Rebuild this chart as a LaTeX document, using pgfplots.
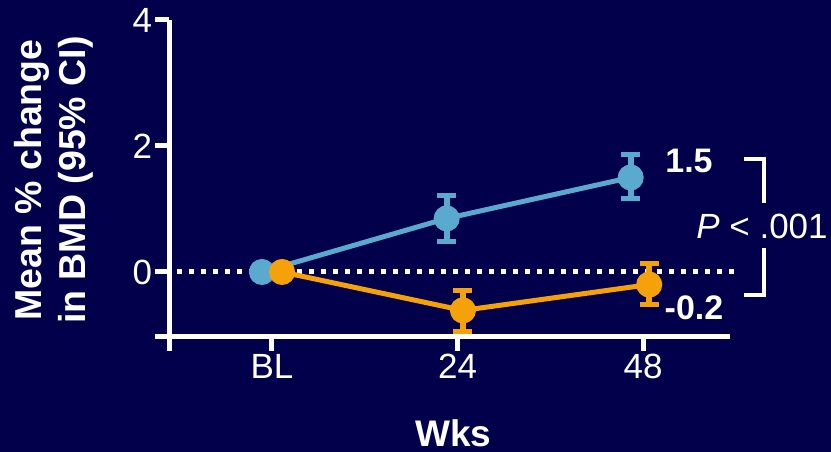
\documentclass[border=0pt]{standalone}
\usepackage{pgfplots}
\pgfplotsset{compat=1.18}
\usepackage{pgfplotstable}
\usepackage{fontspec}
\setmainfont{Liberation Sans}

\definecolor{bgnavy}{RGB}{2,0,74}
\definecolor{seriesblue}{RGB}{90,169,207}
\definecolor{seriesorange}{RGB}{245,161,10}

% x = weeks (series offset slightly apart), y = mean % change, ep/em = CI half-widths
\pgfplotstableread{
x     y     ep    em
-1.3  0     0     0
22.6  0.85  0.37  0.36
46.4  1.5   0.37  0.34
}\blueseries
\pgfplotstableread{
x     y     ep    em
1.3   0     0     0
24.7  -0.61 0.32  0.34
48.8  -0.2  0.34  0.32
}\orangeseries

\begin{document}
\begin{tikzpicture}[x=1pt,y=1pt]
\useasboundingbox (0,0) rectangle (831,452);
\fill[bgnavy] (0,0) rectangle (831,452);
\begin{axis}[
  at={(169.5pt,115pt)}, anchor=south west,
  scale only axis, width=560.5pt, height=317pt,
  xmin=-13.26, xmax=59.25, ymin=-1.032, ymax=4,
  clip=false,
  axis x line*=bottom, axis y line*=left,
  axis line style={white, line width=5pt, -},
  tick align=outside,
  major tick length=14pt,
  every tick/.style={white, line width=5pt},
  xtick={0,24,48}, xticklabels={BL,24,48},
  ytick={0,2,4},
  extra x ticks={-13.26}, extra x tick labels={},
  extra y ticks={-1.032}, extra y tick labels={},
  /pgf/number format/assume math mode=true,
  ticklabel style={white, font=\fontsize{35}{42}\selectfont},
  xlabel={Wks},
  xlabel style={white, font=\fontsize{37}{44}\selectfont\bfseries, at={(axis description cs:0.506,-0.344)}, anchor=base, inner sep=0pt},
  ylabel={Mean \% change\\in BMD (95\% CI)},
  ylabel style={white, font=\fontsize{37.5}{44}\selectfont\bfseries, align=center, at={(axis description cs:-0.206,0.495)}, anchor=center, inner sep=0pt},
]
% reference line at zero
\addplot[white, line width=5pt, dash pattern=on 5pt off 7pt, line cap=butt] coordinates {(-12.29,0) (59.9,0)};
% blue series
\addplot[seriesblue, line width=5pt, mark=*, mark size=10.5pt,
  mark options={draw=none, fill=seriesblue},
  error bars/.cd, y dir=both, y explicit,
  error bar style={seriesblue, line width=6pt},
  error mark options={rotate=90, mark size=9.5pt, line width=5pt, seriesblue}]
  table[x=x, y=y, y error plus=ep, y error minus=em] {\blueseries};
% orange series
\addplot[seriesorange, line width=5pt, mark=*, mark size=10.5pt,
  mark options={draw=none, fill=seriesorange},
  error bars/.cd, y dir=both, y explicit,
  error bar style={seriesorange, line width=6pt},
  error mark options={rotate=90, mark size=9.5pt, line width=5pt, seriesorange}]
  table[x=x, y=y, y error plus=ep, y error minus=em] {\orangeseries};
\end{axis}
% end-of-study values and comparison bracket
\node[white, font=\fontsize{34}{40}\selectfont\bfseries] at (689,291) {1.5};
\node[white, font=\fontsize{34}{40}\selectfont\bfseries] at (694,144) {-0.2};
\draw[white, line width=4pt] (744,293) -- (764,293) -- (764,249);
\draw[white, line width=4pt] (764,204) -- (764,157) -- (744,157);
\node[white, font=\fontsize{35}{42}\selectfont] at (762,226) {\textit{P} < .001};
\end{tikzpicture}
\end{document}
